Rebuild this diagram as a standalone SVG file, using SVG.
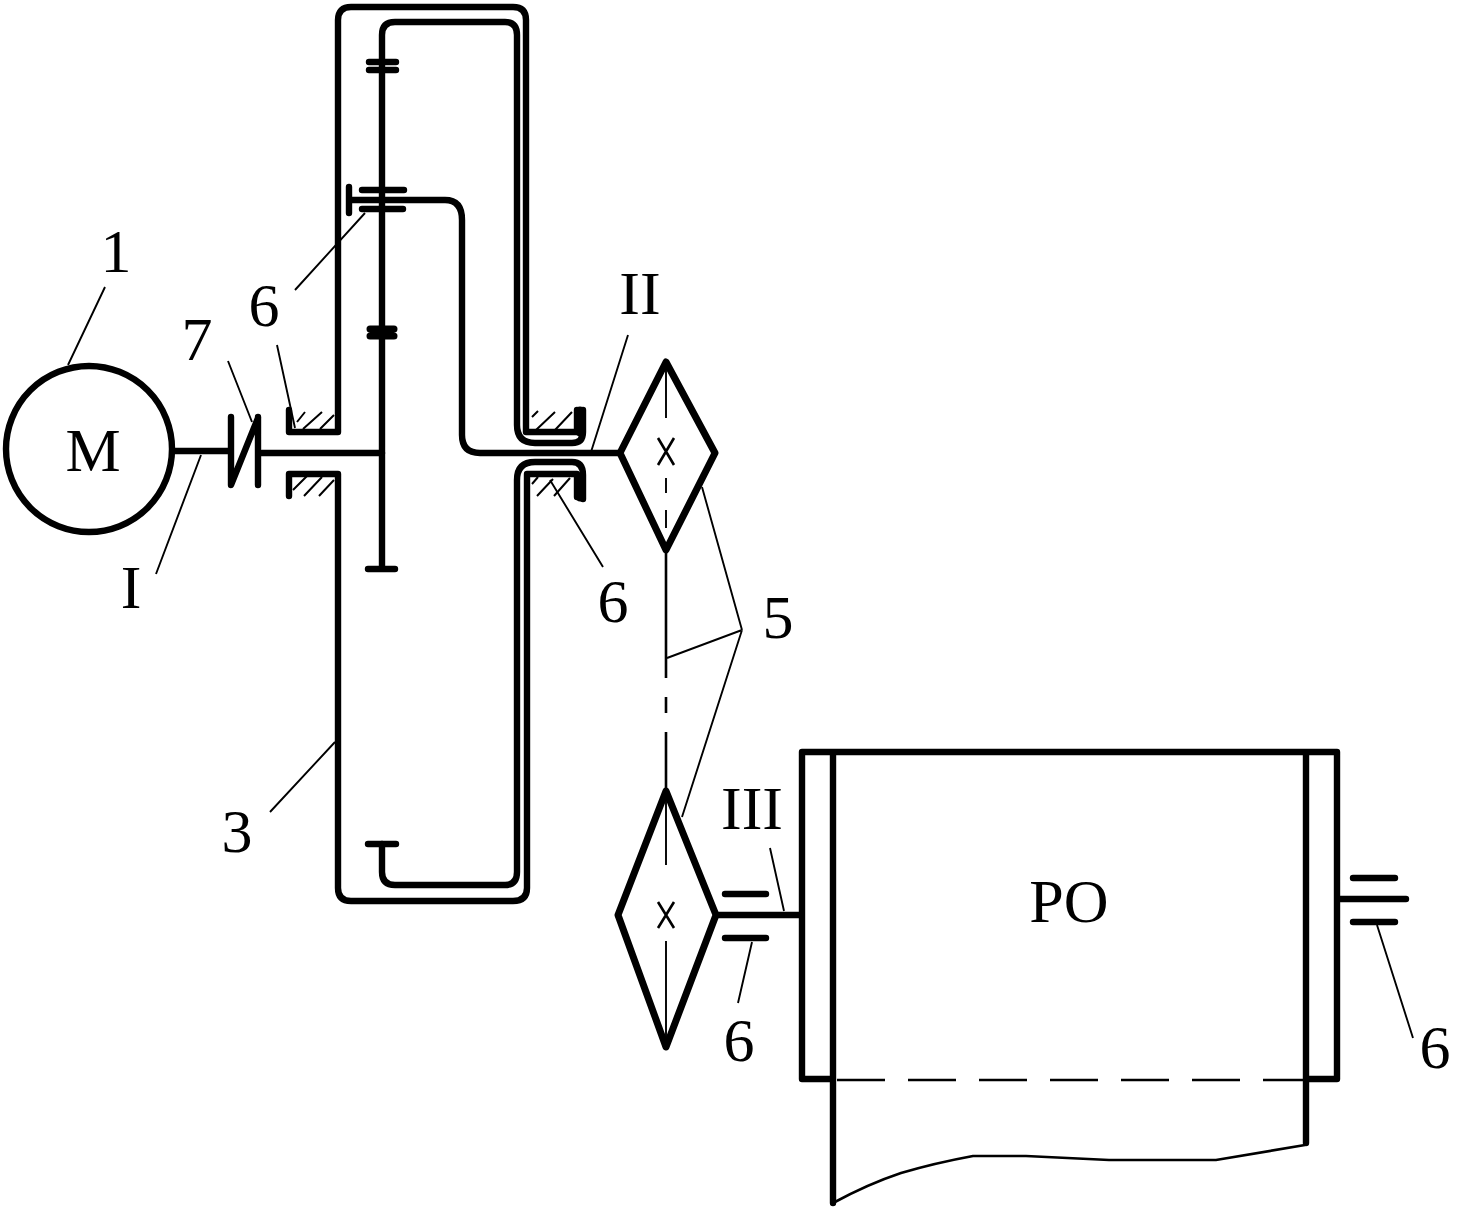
<svg xmlns="http://www.w3.org/2000/svg" width="1474" height="1210" viewBox="0 0 1474 1210">
<style>
.t{fill:none;stroke:#000;stroke-width:6.4;stroke-linecap:round;stroke-linejoin:round}
.d{fill:none;stroke:#000;stroke-width:7;stroke-linecap:round;stroke-linejoin:round}
.b{fill:none;stroke:#000;stroke-width:7;stroke-linecap:round;stroke-linejoin:round}
.l{fill:none;stroke:#000;stroke-width:1.9;stroke-linecap:butt}
.c{fill:none;stroke:#000;stroke-width:2.6;stroke-linecap:butt}
.h{fill:none;stroke:#000;stroke-width:2}
text{font-family:"Liberation Serif","Times New Roman",serif;font-size:62px;fill:#000;text-anchor:middle}
</style>
<rect width="1474" height="1210" fill="#fff"/>
<g id="motor">
<circle class="t" cx="89" cy="449" r="83"/>
<text x="93" y="471">M</text>
<text x="116" y="272">1</text>
</g>
<g id="clutch">
<path class="t" d="M174 451H228M231 417V485L258 418M258 417V485M262 453H382"/>
<text x="197" y="360">7</text>
<text x="131" y="608">I</text>
</g>
<g id="housing">
<path class="t" d="M289 410V432H338V20Q338 7 351 7H513Q526 7 526 20V432H577V410"/>
<path class="t" d="M289 496V474H338V888Q338 901 351 901H513Q527 901 527 888V474H577V497"/>
<path class="h" d="M297 422L305 412M303 429L322 412M320 429L334 415M293 490L307 476M304 496L322 477M319 496L334 480M532 417L538 411M536 430L555 412M555 430L572 412M532 484L538 477M537 496L553 479M554 496L570 478"/>
<text x="237" y="852">3</text>
<text x="264" y="326">6</text>
</g>
<g id="gear-train">
<path class="t" d="M382 60V35Q382 22 395 22H505Q517 22 517 35V425Q517 443 535 443H572Q583 443 583 432V410"/>
<path class="t" d="M382 844V872Q382 885 395 885H505Q517 885 517 872V480Q517 462 535 462H572Q583 462 583 475V499"/>
<path class="t" d="M382 60V569M368 569H395M368 844H396M369 62H396M369 70H396M362 190H404M362 209H403M349 187V213M349 200H445Q462 200 462 220V435Q462 453 480 453H618"/>
<path class="b" d="M370 329H394M370 336H394"/>
<path class="t" style="stroke-width:9" d="M580 411V432M580 478V497"/>
</g>
<g id="upper-sprocket">
<path class="d" d="M666 362L715 453L666 550L620 453Z"/>
<path class="l" d="M666 362V418M666 478V493M666 510V528"/>
<path class="c" d="M658 438L674 465M674 438L658 465"/>
<text x="640" y="314">II</text>
<text x="613" y="622">6</text>
</g>
<g id="lower-sprocket">
<path class="d" d="M666 791L716 915L666 1047L618 915Z"/>
<path class="l" d="M666 791V865M666 941V1047"/>
<path class="c" d="M658 902L674 928M674 902L658 928"/>
<path class="t" d="M716 915H800M725 894H766M725 938H766"/>
<text x="752" y="829">III</text>
<text x="739" y="1061">6</text>
</g>
<g id="work-unit">
<path class="t" d="M802 1079V752H1337V1079H1306M802 1079H833M833 752V1203M1306 752V1143M1337 899H1406M1353 878H1395M1353 922H1395"/>
<path class="c" stroke-dasharray="48 23" d="M837 1080H1303"/>
<path class="c" d="M833 1203Q868 1184 901 1173Q935 1163 973 1156H1026L1109 1160H1216L1305 1145"/>
<text x="1069" y="922">PO</text>
<text x="1435" y="1068">6</text>
</g>
<g id="chain">
<path class="c" d="M666 550V678M666 697V713M666 732V791"/>
<text x="778" y="638">5</text>
</g>
<g id="connectors">
<path class="l" d="M105 287L68 365M228 361L252 422M277 345L295 428M295 290L365 213M156 574L201 455M628 335L591 452M603 567L550 480M742 630L702 487M742 630L667 658M742 630L682 817M770 848L784 911M752 942L738 1003M270 812L335 742M1377 925L1413 1038"/>
</g>
</svg>
